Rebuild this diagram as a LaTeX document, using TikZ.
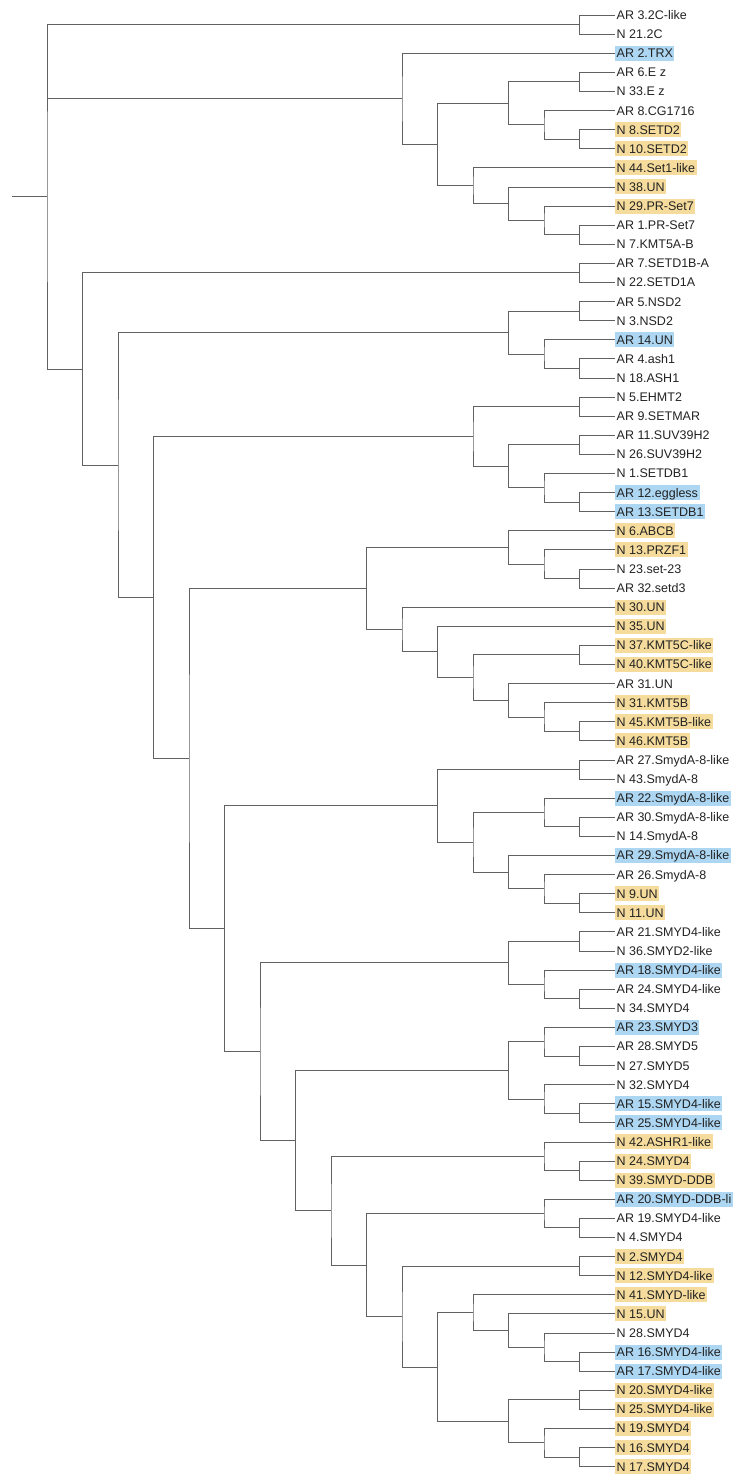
\documentclass[tikz,border=0pt]{standalone}
\usepackage{fontspec}
\setmainfont{Liberation Sans}
\usepackage{xcolor}
\usepackage{tikz}
\usetikzlibrary{calc}
\definecolor{arblue}{HTML}{ACD6F2}
\definecolor{nyellow}{HTML}{F6DC9C}
\definecolor{textgray}{HTML}{222222}
\tikzstyle{leaf} = [anchor=west, inner xsep=1.5pt, inner ysep=1.5pt, text height=10.5pt, text depth=1.5pt, text=textgray, font=\fontsize{12.5}{14}\selectfont]
\tikzstyle{branch} = [draw=black!62, line width=0.8pt]
% clade: name, height above the tips, first child, last child
\newcommand{\clade}[4]{%
  \path let \p1=(#3), \p2=(#4) in coordinate (#1) at ({615pt-35.5pt*#2},{(\y1+\y2)/2});
  \draw[branch] (#3) -| (#1) |- (#4);
}

\begin{document}
\begin{tikzpicture}[x=1pt, y=-1pt]
        \useasboundingbox (0,0) rectangle (734,1475);

        % Leaves
        \foreach \lab/\hl [count=\i from 0] in {
            AR 3.2C-like/none, N 21.2C/none, AR 2.TRX/arblue, AR 6.E z/none,
            N 33.E z/none, AR 8.CG1716/none, N 8.SETD2/nyellow, N 10.SETD2/nyellow,
            N 44.Set1-like/nyellow, N 38.UN/nyellow, N 29.PR-Set7/nyellow, AR 1.PR-Set7/none,
            N 7.KMT5A-B/none, AR 7.SETD1B-A/none, N 22.SETD1A/none, AR 5.NSD2/none,
            N 3.NSD2/none, AR 14.UN/arblue, AR 4.ash1/none, N 18.ASH1/none,
            N 5.EHMT2/none, AR 9.SETMAR/none, AR 11.SUV39H2/none, N 26.SUV39H2/none,
            N 1.SETDB1/none, AR 12.eggless/arblue, AR 13.SETDB1/arblue, N 6.ABCB/nyellow,
            N 13.PRZF1/nyellow, N 23.set-23/none, AR 32.setd3/none, N 30.UN/nyellow,
            N 35.UN/nyellow, N 37.KMT5C-like/nyellow, N 40.KMT5C-like/nyellow, AR 31.UN/none,
            N 31.KMT5B/nyellow, N 45.KMT5B-like/nyellow, N 46.KMT5B/nyellow, AR 27.SmydA-8-like/none,
            N 43.SmydA-8/none, AR 22.SmydA-8-like/arblue, AR 30.SmydA-8-like/none, N 14.SmydA-8/none,
            AR 29.SmydA-8-like/arblue, AR 26.SmydA-8/none, N 9.UN/nyellow, N 11.UN/nyellow,
            AR 21.SMYD4-like/none, N 36.SMYD2-like/none, AR 18.SMYD4-like/arblue, AR 24.SMYD4-like/none,
            N 34.SMYD4/none, AR 23.SMYD3/arblue, AR 28.SMYD5/none, N 27.SMYD5/none,
            N 32.SMYD4/none, AR 15.SMYD4-like/arblue, AR 25.SMYD4-like/arblue, N 42.ASHR1-like/nyellow,
            N 24.SMYD4/nyellow, N 39.SMYD-DDB/nyellow, AR 20.SMYD-DDB-li/arblue, AR 19.SMYD4-like/none,
            N 4.SMYD4/none, N 2.SMYD4/nyellow, N 12.SMYD4-like/nyellow, N 41.SMYD-like/nyellow,
            N 15.UN/nyellow, N 28.SMYD4/none, AR 16.SMYD4-like/arblue, AR 17.SMYD4-like/arblue,
            N 20.SMYD4-like/nyellow, N 25.SMYD4-like/nyellow, N 19.SMYD4/nyellow, N 16.SMYD4/nyellow,
            N 17.SMYD4/nyellow}
            \node[leaf, fill=\hl] (l\i) at (615,{15+19.1*\i}) {\lab};

        % Top clades
        \clade{a1}{1}{l0}{l1}
        \clade{b1}{1}{l3}{l4}
        \clade{b2}{1}{l6}{l7}
        \clade{b3}{2}{l5}{b2}
        \clade{b4}{3}{b1}{b3}
        \clade{b5}{1}{l11}{l12}
        \clade{b6}{2}{l10}{b5}
        \clade{b7}{3}{l9}{b6}
        \clade{b8}{4}{l8}{b7}
        \clade{b9}{5}{b4}{b8}
        \clade{b10}{6}{l2}{b9}

        % SETD1, NSD and ash1
        \clade{c1}{1}{l13}{l14}
        \clade{e1}{1}{l15}{l16}
        \clade{e2}{1}{l18}{l19}
        \clade{e3}{2}{l17}{e2}
        \clade{e4}{3}{e1}{e3}

        % SUV39 and SETDB1
        \clade{g1}{1}{l20}{l21}
        \clade{g2}{1}{l22}{l23}
        \clade{g3}{1}{l25}{l26}
        \clade{g4}{2}{l24}{g3}
        \clade{g5}{3}{g2}{g4}
        \clade{g6}{4}{g1}{g5}

        % KMT5
        \clade{k1}{1}{l29}{l30}
        \clade{k2}{2}{l28}{k1}
        \clade{k3}{3}{l27}{k2}
        \clade{m1}{1}{l33}{l34}
        \clade{m2}{1}{l37}{l38}
        \clade{m3}{2}{l36}{m2}
        \clade{m4}{3}{l35}{m3}
        \clade{m5}{4}{m1}{m4}
        \clade{m6}{5}{l32}{m5}
        \clade{m7}{6}{l31}{m6}
        \clade{i1}{7}{k3}{m7}

        % SmydA-8
        \clade{p1}{1}{l39}{l40}
        \clade{p2}{1}{l42}{l43}
        \clade{p3}{2}{l41}{p2}
        \clade{p4}{1}{l46}{l47}
        \clade{p5}{2}{l45}{p4}
        \clade{p6}{3}{l44}{p5}
        \clade{p7}{4}{p3}{p6}
        \clade{p8}{5}{p1}{p7}

        % SMYD
        \clade{r1}{1}{l48}{l49}
        \clade{r2}{1}{l51}{l52}
        \clade{r3}{2}{l50}{r2}
        \clade{r4}{3}{r1}{r3}
        \clade{t1}{1}{l54}{l55}
        \clade{t2}{2}{l53}{t1}
        \clade{t3}{1}{l57}{l58}
        \clade{t4}{2}{l56}{t3}
        \clade{t5}{3}{t2}{t4}
        \clade{v1}{1}{l60}{l61}
        \clade{v2}{2}{l59}{v1}
        \clade{x1}{1}{l63}{l64}
        \clade{x2}{2}{l62}{x1}
        \clade{y1}{1}{l65}{l66}
        \clade{z1}{1}{l70}{l71}
        \clade{z2}{2}{l69}{z1}
        \clade{z3}{3}{l68}{z2}
        \clade{z4}{4}{l67}{z3}
        \clade{z5}{1}{l72}{l73}
        \clade{z6}{1}{l75}{l76}
        \clade{z7}{2}{l74}{z6}
        \clade{z8}{3}{z5}{z7}
        \clade{z9}{5}{z4}{z8}
        \clade{y2}{6}{y1}{z9}
        \clade{w1}{7}{x2}{y2}
        \clade{u1}{8}{v2}{w1}
        \clade{s1}{9}{t5}{u1}
        \clade{q1}{10}{r4}{s1}
        \clade{j1}{11}{p8}{q1}

        % Backbone
        \clade{h1}{12}{i1}{j1}
        \clade{f1}{13}{g6}{h1}
        \clade{d1}{14}{e4}{f1}
        \clade{c2}{15}{c1}{d1}
        \clade{root}{16}{a1}{c2}
        \draw[branch] (b10) -- (b10 -| root);
        \path let \p1=(root) in coordinate (stem) at (12pt,\y1);
        \draw[branch] (stem) -- (root);
\end{tikzpicture}
\end{document}
